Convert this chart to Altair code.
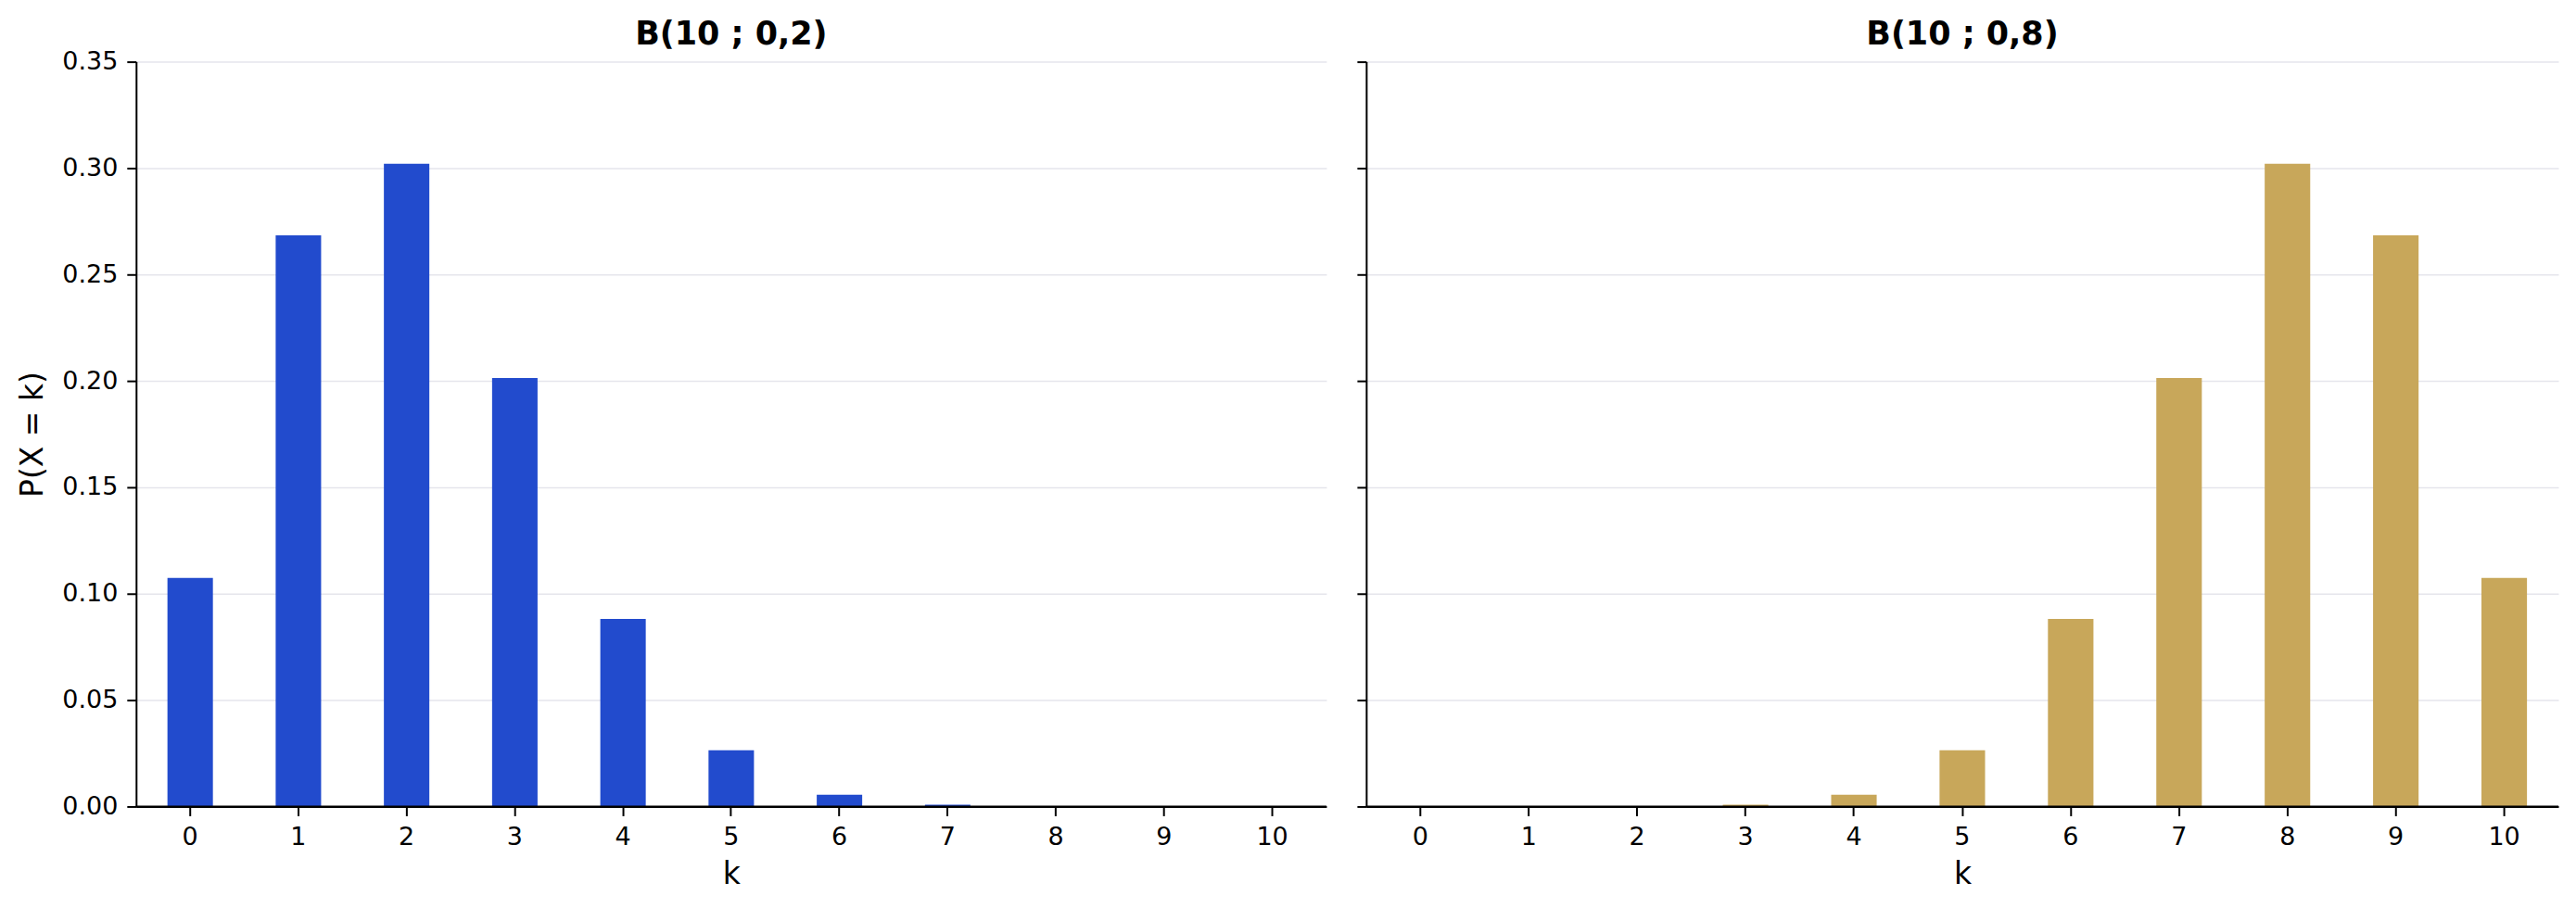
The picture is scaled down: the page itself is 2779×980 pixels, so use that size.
import altair as alt
import pandas as pd

# ---- data ----
k_values = [0, 1, 2, 3, 4, 5, 6, 7, 8, 9, 10]
p_low = [0.1074, 0.2684, 0.3020, 0.2013, 0.0881, 0.0264, 0.0055, 0.0008, 0.0001, 0.0000, 0.0000]
p_high = [0.0000, 0.0000, 0.0001, 0.0008, 0.0055, 0.0264, 0.0881, 0.2013, 0.3020, 0.2684, 0.1074]
y_ticks = [0.0, 0.05, 0.10, 0.15, 0.20, 0.25, 0.30, 0.35]
titles = ["B(10 ; 0,2)", "B(10 ; 0,8)"]
colors = ["#224bcd", "#c8a75a"]

FONT = "DejaVu Sans"
GRID = "#e5e5ec"


def panel(values, color, title, first, width, title_offset):
    df = pd.DataFrame({"k": k_values, "p": values})
    if first:
        y_axis = alt.Axis(values=y_ticks, format=".2f", grid=True, gridColor=GRID,
                          gridWidth=1.5, title="P(X = k)", titlePadding=14)
    else:
        y_axis = alt.Axis(values=y_ticks, format=".2f", grid=True, gridColor=GRID,
                          gridWidth=1.5, title=None, labels=False)
    bars = alt.Chart(df).mark_bar(color=color).encode(
        x=alt.X("k:O", scale=alt.Scale(paddingInner=0.58, paddingOuter=0.29),
                axis=alt.Axis(labelAngle=0, title="k", grid=False, titlePadding=11)),
        y=alt.Y("p:Q", scale=alt.Scale(domain=[0, 0.35], nice=False), axis=y_axis),
    )
    base = alt.Chart(pd.DataFrame({"z": [0]})).mark_rule(color="black", strokeWidth=2).encode(
        y=alt.datum(0)
    )
    return alt.layer(bars, base).properties(
        width=width,
        height=805,
        title=alt.TitleParams(title, fontSize=35, fontWeight="bold", font=FONT,
                              color="black", offset=title_offset, baseline="alphabetic"),
    )


left = panel(p_low, colors[0], titles[0], True, 1286, -30)
right = panel(p_high, colors[1], titles[1], False, 1288, -17)

chart = alt.hconcat(left, right, spacing=31).properties(
    padding={"left": 11, "top": 11, "right": 10, "bottom": 5},
    background="white",
).configure_view(strokeWidth=0).configure_axis(
    domainColor="black", domainWidth=2, tickColor="black", tickWidth=2, tickSize=10,
    labelFont=FONT, labelFontSize=27, labelColor="black", labelPadding=10,
    titleFont=FONT, titleFontSize=33, titleFontWeight="normal", titleColor="black",
)

chart.save("out.html", embed_options={"renderer": "svg", "actions": False})
